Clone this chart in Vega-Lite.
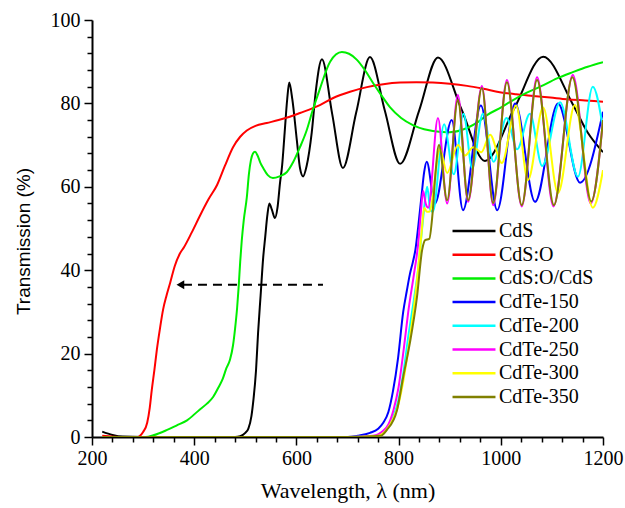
{
  "$schema": "https://vega.github.io/schema/vega-lite/v6.json",
  "width": 511,
  "height": 417,
  "autosize": {"type": "none"},
  "padding": {"left": 92, "top": 20, "right": 22, "bottom": 71},
  "background": "white",
  "config": {
    "view": {"stroke": null},
    "axis": {
      "domainColor": "black",
      "domainWidth": 2,
      "tickColor": "black",
      "tickWidth": 1.5,
      "labelFont": "Liberation Serif",
      "labelColor": "black",
      "grid": false,
      "titleColor": "black",
      "titleFontWeight": "normal"
    }
  },
  "datasets": {
    "spectra": [
      {"s":"CdS","wl":220,"T":1.3},{"s":"CdS","wl":240,"T":0.5},{"s":"CdS","wl":260,"T":0.1},{"s":"CdS","wl":300,"T":0},{"s":"CdS","wl":480,"T":0},{"s":"CdS","wl":490,"T":0.2},{"s":"CdS","wl":500,"T":1},{"s":"CdS","wl":506,"T":2},{"s":"CdS","wl":512,"T":5},{"s":"CdS","wl":516,"T":9},{"s":"CdS","wl":521,"T":16},{"s":"CdS","wl":525,"T":25},{"s":"CdS","wl":530,"T":34},{"s":"CdS","wl":535,"T":43},{"s":"CdS","wl":539,"T":48},{"s":"CdS","wl":543,"T":53},{"s":"CdS","wl":547,"T":56},{"s":"CdS","wl":552,"T":54.5},{"s":"CdS","wl":558,"T":52.5},{"s":"CdS","wl":563,"T":55},{"s":"CdS","wl":568,"T":61},{"s":"CdS","wl":572,"T":65},{"s":"CdS","wl":577,"T":73},{"s":"CdS","wl":582,"T":81},{"s":"CdS","wl":586,"T":85},{"s":"CdS","wl":592,"T":81},{"s":"CdS","wl":601,"T":71},{"s":"CdS","wl":607,"T":64.5},{"s":"CdS","wl":613,"T":62.5},{"s":"CdS","wl":620,"T":65},{"s":"CdS","wl":630,"T":73},{"s":"CdS","wl":638,"T":83},{"s":"CdS","wl":650,"T":90.6},{"s":"CdS","wl":670,"T":77.5},{"s":"CdS","wl":691,"T":64.5},{"s":"CdS","wl":717,"T":77.8},{"s":"CdS","wl":744,"T":91.1},{"s":"CdS","wl":773,"T":78.3},{"s":"CdS","wl":803,"T":65.5},{"s":"CdS","wl":840,"T":78.2},{"s":"CdS","wl":877,"T":91},{"s":"CdS","wl":923,"T":78.6},{"s":"CdS","wl":969,"T":66.2},{"s":"CdS","wl":1026,"T":78.7},{"s":"CdS","wl":1083,"T":91.2},{"s":"CdS","wl":1140,"T":80},{"s":"CdS","wl":1170,"T":73},{"s":"CdS","wl":1200,"T":68.3},

      {"s":"CdS:O","wl":220,"T":0.3},{"s":"CdS:O","wl":260,"T":0},{"s":"CdS:O","wl":290,"T":0},{"s":"CdS:O","wl":294,"T":0.3},{"s":"CdS:O","wl":300,"T":1.2},{"s":"CdS:O","wl":308,"T":3.4},{"s":"CdS:O","wl":313,"T":7},{"s":"CdS:O","wl":317,"T":11.3},{"s":"CdS:O","wl":322,"T":16},{"s":"CdS:O","wl":327,"T":21},{"s":"CdS:O","wl":333,"T":26},{"s":"CdS:O","wl":339,"T":30.5},{"s":"CdS:O","wl":346,"T":34},{"s":"CdS:O","wl":353,"T":37},{"s":"CdS:O","wl":362,"T":41},{"s":"CdS:O","wl":372,"T":44},{"s":"CdS:O","wl":380,"T":45.5},{"s":"CdS:O","wl":395,"T":49},{"s":"CdS:O","wl":411,"T":53},{"s":"CdS:O","wl":428,"T":57},{"s":"CdS:O","wl":445,"T":60.5},{"s":"CdS:O","wl":460,"T":65},{"s":"CdS:O","wl":476,"T":69.5},{"s":"CdS:O","wl":490,"T":72},{"s":"CdS:O","wl":503,"T":73.5},{"s":"CdS:O","wl":520,"T":74.6},{"s":"CdS:O","wl":542,"T":75.3},{"s":"CdS:O","wl":565,"T":76},{"s":"CdS:O","wl":587,"T":76.8},{"s":"CdS:O","wl":607,"T":77.7},{"s":"CdS:O","wl":646,"T":79.6},{"s":"CdS:O","wl":672,"T":81.3},{"s":"CdS:O","wl":705,"T":82.8},{"s":"CdS:O","wl":738,"T":83.9},{"s":"CdS:O","wl":770,"T":84.6},{"s":"CdS:O","wl":803,"T":85},{"s":"CdS:O","wl":835,"T":85.1},{"s":"CdS:O","wl":867,"T":85},{"s":"CdS:O","wl":900,"T":84.7},{"s":"CdS:O","wl":934,"T":84.2},{"s":"CdS:O","wl":966,"T":83.5},{"s":"CdS:O","wl":998,"T":82.7},{"s":"CdS:O","wl":1030,"T":82.2},{"s":"CdS:O","wl":1063,"T":81.8},{"s":"CdS:O","wl":1097,"T":81.4},{"s":"CdS:O","wl":1130,"T":81},{"s":"CdS:O","wl":1165,"T":80.7},{"s":"CdS:O","wl":1200,"T":80.4},

      {"s":"CdS:O/CdS","wl":220,"T":0},{"s":"CdS:O/CdS","wl":305,"T":0},{"s":"CdS:O/CdS","wl":320,"T":0.4},{"s":"CdS:O/CdS","wl":347,"T":1.7},{"s":"CdS:O/CdS","wl":366,"T":2.8},{"s":"CdS:O/CdS","wl":386,"T":4},{"s":"CdS:O/CdS","wl":410,"T":6.5},{"s":"CdS:O/CdS","wl":425,"T":8},{"s":"CdS:O/CdS","wl":437,"T":9.6},{"s":"CdS:O/CdS","wl":448,"T":12},{"s":"CdS:O/CdS","wl":456,"T":14},{"s":"CdS:O/CdS","wl":463,"T":16.5},{"s":"CdS:O/CdS","wl":470,"T":18.5},{"s":"CdS:O/CdS","wl":476,"T":22},{"s":"CdS:O/CdS","wl":480,"T":26},{"s":"CdS:O/CdS","wl":484,"T":31},{"s":"CdS:O/CdS","wl":487,"T":36},{"s":"CdS:O/CdS","wl":490,"T":42},{"s":"CdS:O/CdS","wl":493,"T":47},{"s":"CdS:O/CdS","wl":497,"T":52},{"s":"CdS:O/CdS","wl":503,"T":57.5},{"s":"CdS:O/CdS","wl":507,"T":63},{"s":"CdS:O/CdS","wl":511,"T":66.4},{"s":"CdS:O/CdS","wl":515,"T":68},{"s":"CdS:O/CdS","wl":519,"T":68.4},{"s":"CdS:O/CdS","wl":524,"T":67.5},{"s":"CdS:O/CdS","wl":530,"T":65.6},{"s":"CdS:O/CdS","wl":535,"T":64.5},{"s":"CdS:O/CdS","wl":544,"T":62.8},{"s":"CdS:O/CdS","wl":554,"T":62.1},{"s":"CdS:O/CdS","wl":567,"T":62.5},{"s":"CdS:O/CdS","wl":581,"T":63.5},{"s":"CdS:O/CdS","wl":594,"T":66},{"s":"CdS:O/CdS","wl":607,"T":69.5},{"s":"CdS:O/CdS","wl":620,"T":73.5},{"s":"CdS:O/CdS","wl":632,"T":78.4},{"s":"CdS:O/CdS","wl":646,"T":83.5},{"s":"CdS:O/CdS","wl":666,"T":90},{"s":"CdS:O/CdS","wl":689,"T":92.3},{"s":"CdS:O/CdS","wl":703,"T":91.9},{"s":"CdS:O/CdS","wl":718,"T":90.5},{"s":"CdS:O/CdS","wl":734,"T":88},{"s":"CdS:O/CdS","wl":750,"T":84.9},{"s":"CdS:O/CdS","wl":766,"T":82},{"s":"CdS:O/CdS","wl":783,"T":79.1},{"s":"CdS:O/CdS","wl":805,"T":76.5},{"s":"CdS:O/CdS","wl":828,"T":74.8},{"s":"CdS:O/CdS","wl":850,"T":73.8},{"s":"CdS:O/CdS","wl":867,"T":73.4},{"s":"CdS:O/CdS","wl":900,"T":73.1},{"s":"CdS:O/CdS","wl":934,"T":74.1},{"s":"CdS:O/CdS","wl":955,"T":75.5},{"s":"CdS:O/CdS","wl":973,"T":77.2},{"s":"CdS:O/CdS","wl":1000,"T":79},{"s":"CdS:O/CdS","wl":1024,"T":80.8},{"s":"CdS:O/CdS","wl":1050,"T":82.5},{"s":"CdS:O/CdS","wl":1077,"T":84},{"s":"CdS:O/CdS","wl":1110,"T":86},{"s":"CdS:O/CdS","wl":1141,"T":87.5},{"s":"CdS:O/CdS","wl":1170,"T":88.8},{"s":"CdS:O/CdS","wl":1200,"T":89.9},

      {"s":"CdTe-150","wl":220,"T":0},{"s":"CdTe-150","wl":700,"T":0},{"s":"CdTe-150","wl":720,"T":0.3},{"s":"CdTe-150","wl":744,"T":1},{"s":"CdTe-150","wl":760,"T":2},{"s":"CdTe-150","wl":770,"T":3.4},{"s":"CdTe-150","wl":780,"T":6},{"s":"CdTe-150","wl":789,"T":11},{"s":"CdTe-150","wl":799,"T":19},{"s":"CdTe-150","wl":809,"T":30},{"s":"CdTe-150","wl":816,"T":35},{"s":"CdTe-150","wl":822,"T":39},{"s":"CdTe-150","wl":828,"T":42},{"s":"CdTe-150","wl":833,"T":45},{"s":"CdTe-150","wl":838,"T":50},{"s":"CdTe-150","wl":845,"T":58},{"s":"CdTe-150","wl":850,"T":63.5},{"s":"CdTe-150","wl":855,"T":66},{"s":"CdTe-150","wl":871,"T":56},{"s":"CdTe-150","wl":904,"T":76},{"s":"CdTe-150","wl":926,"T":54.4},{"s":"CdTe-150","wl":961,"T":79.5},{"s":"CdTe-150","wl":993,"T":54.4},{"s":"CdTe-150","wl":1028,"T":80},{"s":"CdTe-150","wl":1067,"T":56.4},{"s":"CdTe-150","wl":1112,"T":80},{"s":"CdTe-150","wl":1155,"T":61},{"s":"CdTe-150","wl":1200,"T":78},

      {"s":"CdTe-200","wl":220,"T":0},{"s":"CdTe-200","wl":700,"T":0},{"s":"CdTe-200","wl":760,"T":0.3},{"s":"CdTe-200","wl":775,"T":1.5},{"s":"CdTe-200","wl":790,"T":5},{"s":"CdTe-200","wl":800,"T":9},{"s":"CdTe-200","wl":810,"T":16},{"s":"CdTe-200","wl":820,"T":25},{"s":"CdTe-200","wl":830,"T":33},{"s":"CdTe-200","wl":838,"T":40},{"s":"CdTe-200","wl":846,"T":50},{"s":"CdTe-200","wl":852,"T":57},{"s":"CdTe-200","wl":856,"T":60},{"s":"CdTe-200","wl":862,"T":54.5},{"s":"CdTe-200","wl":867,"T":54},{"s":"CdTe-200","wl":889,"T":75},{"s":"CdTe-200","wl":908,"T":63},{"s":"CdTe-200","wl":927,"T":77.5},{"s":"CdTe-200","wl":944,"T":64.5},{"s":"CdTe-200","wl":965,"T":77.5},{"s":"CdTe-200","wl":986,"T":66},{"s":"CdTe-200","wl":1011,"T":76.5},{"s":"CdTe-200","wl":1032,"T":69},{"s":"CdTe-200","wl":1057,"T":77.5},{"s":"CdTe-200","wl":1081,"T":65},{"s":"CdTe-200","wl":1116,"T":80.3},{"s":"CdTe-200","wl":1151,"T":62.4},{"s":"CdTe-200","wl":1180,"T":84},{"s":"CdTe-200","wl":1200,"T":74},

      {"s":"CdTe-250","wl":220,"T":0},{"s":"CdTe-250","wl":700,"T":0},{"s":"CdTe-250","wl":750,"T":0.3},{"s":"CdTe-250","wl":770,"T":1.5},{"s":"CdTe-250","wl":780,"T":3},{"s":"CdTe-250","wl":790,"T":6.5},{"s":"CdTe-250","wl":800,"T":12},{"s":"CdTe-250","wl":810,"T":21},{"s":"CdTe-250","wl":820,"T":31},{"s":"CdTe-250","wl":830,"T":39},{"s":"CdTe-250","wl":838,"T":46},{"s":"CdTe-250","wl":843,"T":53},{"s":"CdTe-250","wl":848,"T":59},{"s":"CdTe-250","wl":853,"T":56},{"s":"CdTe-250","wl":858,"T":55},{"s":"CdTe-250","wl":877,"T":76.5},{"s":"CdTe-250","wl":895,"T":56},{"s":"CdTe-250","wl":916,"T":82},{"s":"CdTe-250","wl":936,"T":56.4},{"s":"CdTe-250","wl":963,"T":84.2},{"s":"CdTe-250","wl":985,"T":55.6},{"s":"CdTe-250","wl":1012,"T":85.6},{"s":"CdTe-250","wl":1041,"T":55.3},{"s":"CdTe-250","wl":1071,"T":86.3},{"s":"CdTe-250","wl":1103,"T":55.3},{"s":"CdTe-250","wl":1141,"T":86.8},{"s":"CdTe-250","wl":1176,"T":56},{"s":"CdTe-250","wl":1200,"T":76},

      {"s":"CdTe-300","wl":220,"T":0},{"s":"CdTe-300","wl":700,"T":0},{"s":"CdTe-300","wl":760,"T":0.3},{"s":"CdTe-300","wl":775,"T":1.5},{"s":"CdTe-300","wl":790,"T":4.5},{"s":"CdTe-300","wl":800,"T":8},{"s":"CdTe-300","wl":810,"T":14},{"s":"CdTe-300","wl":820,"T":22},{"s":"CdTe-300","wl":830,"T":31},{"s":"CdTe-300","wl":838,"T":40},{"s":"CdTe-300","wl":845,"T":49},{"s":"CdTe-300","wl":850,"T":55},{"s":"CdTe-300","wl":855,"T":54},{"s":"CdTe-300","wl":860,"T":54},{"s":"CdTe-300","wl":881,"T":69},{"s":"CdTe-300","wl":895,"T":63.3},{"s":"CdTe-300","wl":916,"T":70},{"s":"CdTe-300","wl":930,"T":67.5},{"s":"CdTe-300","wl":946,"T":69.5},{"s":"CdTe-300","wl":962,"T":68.3},{"s":"CdTe-300","wl":979,"T":72.5},{"s":"CdTe-300","wl":1002,"T":65.7},{"s":"CdTe-300","wl":1030,"T":79.5},{"s":"CdTe-300","wl":1053,"T":61.6},{"s":"CdTe-300","wl":1083,"T":79},{"s":"CdTe-300","wl":1112,"T":58.5},{"s":"CdTe-300","wl":1145,"T":79.6},{"s":"CdTe-300","wl":1180,"T":55},{"s":"CdTe-300","wl":1200,"T":64},

      {"s":"CdTe-350","wl":220,"T":0},{"s":"CdTe-350","wl":700,"T":0},{"s":"CdTe-350","wl":765,"T":0.3},{"s":"CdTe-350","wl":777,"T":1.7},{"s":"CdTe-350","wl":797,"T":6.5},{"s":"CdTe-350","wl":809,"T":14.4},{"s":"CdTe-350","wl":822,"T":22.5},{"s":"CdTe-350","wl":836,"T":33.6},{"s":"CdTe-350","wl":846,"T":44.8},{"s":"CdTe-350","wl":852,"T":47.2},{"s":"CdTe-350","wl":860,"T":47.5},{"s":"CdTe-350","wl":866,"T":53},{"s":"CdTe-350","wl":872,"T":63},{"s":"CdTe-350","wl":879,"T":70},{"s":"CdTe-350","wl":895,"T":56.8},{"s":"CdTe-350","wl":916,"T":80.8},{"s":"CdTe-350","wl":936,"T":56.8},{"s":"CdTe-350","wl":963,"T":83.7},{"s":"CdTe-350","wl":985,"T":56.1},{"s":"CdTe-350","wl":1012,"T":85.1},{"s":"CdTe-350","wl":1041,"T":55.6},{"s":"CdTe-350","wl":1071,"T":85.6},{"s":"CdTe-350","wl":1104,"T":55.6},{"s":"CdTe-350","wl":1140,"T":86.3},{"s":"CdTe-350","wl":1177,"T":56.5},{"s":"CdTe-350","wl":1200,"T":76}
    ],
    "arrow": [{"wl": 378, "wl2": 652, "T": 36.5}],
    "head": [{"wl": 373, "T": 36.5}]
  },
  "layer": [
    {
      "data": {"name": "spectra"},
      "mark": {"type": "line", "interpolate": "monotone", "strokeWidth": 2, "clip": true},
      "encoding": {
        "x": {
          "field": "wl", "type": "quantitative",
          "scale": {"domain": [200, 1200], "nice": false, "zero": false},
          "axis": {
            "title": "Wavelength, λ (nm)",
            "titleFont": "Liberation Serif",
            "titleFontSize": 22,
            "titlePadding": 12,
            "values": [200,240,280,320,360,400,440,480,520,560,600,640,680,720,760,800,840,880,920,960,1000,1040,1080,1120,1160,1200],
            "tickCount": 40,
            "labelExpr": "datum.value % 200 == 0 ? format(datum.value, 'd') : ''",
            "labelFontSize": {"condition": {"test": "datum.value % 200 == 0", "value": 20}, "value": 0},
            "labelOverlap": false,
            "labelBound": false,
            "labelFlush": false,
            "tickSize": {"condition": {"test": "datum.value % 200 == 0", "value": 8}, "value": 5},
            "labelPadding": 3
          }
        },
        "y": {
          "field": "T", "type": "quantitative",
          "scale": {"domain": [0, 100], "nice": false},
          "axis": {
            "title": "Transmission (%)",
            "titleFont": "Liberation Sans",
            "titleFontSize": 19,
            "titlePadding": 17,
            "titleY": 221,
            "values": [0,4,8,12,16,20,24,28,32,36,40,44,48,52,56,60,64,68,72,76,80,84,88,92,96,100],
            "tickCount": 40,
            "labelExpr": "datum.value % 20 == 0 ? format(datum.value, 'd') : ''",
            "labelFontSize": {"condition": {"test": "datum.value % 20 == 0", "value": 20}, "value": 0},
            "labelOverlap": false,
            "labelBound": false,
            "labelFlush": false,
            "tickSize": {"condition": {"test": "datum.value % 20 == 0", "value": 8}, "value": 5},
            "labelPadding": 4
          }
        },
        "color": {
          "field": "s", "type": "nominal",
          "scale": {
            "domain": ["CdS", "CdS:O", "CdS:O/CdS", "CdTe-150", "CdTe-200", "CdTe-250", "CdTe-300", "CdTe-350"],
            "range": ["#000000", "#ff0000", "#00ee00", "#0000ff", "#00ffff", "#ff00ff", "#ffff00", "#808000"]
          },
          "legend": {
            "title": null,
            "orient": "none",
            "legendX": 372,
            "legendY": 201,
            "symbolType": "M-3,0H3",
            "symbolSize": 205,
            "symbolStrokeWidth": 2.5,
            "labelFont": "Liberation Serif",
            "labelFontSize": 20,
            "labelColor": "black",
            "labelOffset": 15,
            "rowPadding": 3.7
          }
        }
      }
    },
    {
      "data": {"name": "arrow"},
      "mark": {"type": "rule", "strokeDash": [9, 6], "strokeWidth": 2, "color": "black"},
      "encoding": {
        "x": {"field": "wl", "type": "quantitative"},
        "x2": {"field": "wl2"},
        "y": {"field": "T", "type": "quantitative"}
      }
    },
    {
      "data": {"name": "head"},
      "mark": {"type": "point", "shape": "triangle-left", "filled": true, "color": "black", "size": 80, "opacity": 1},
      "encoding": {
        "x": {"field": "wl", "type": "quantitative"},
        "y": {"field": "T", "type": "quantitative"}
      }
    }
  ]
}
